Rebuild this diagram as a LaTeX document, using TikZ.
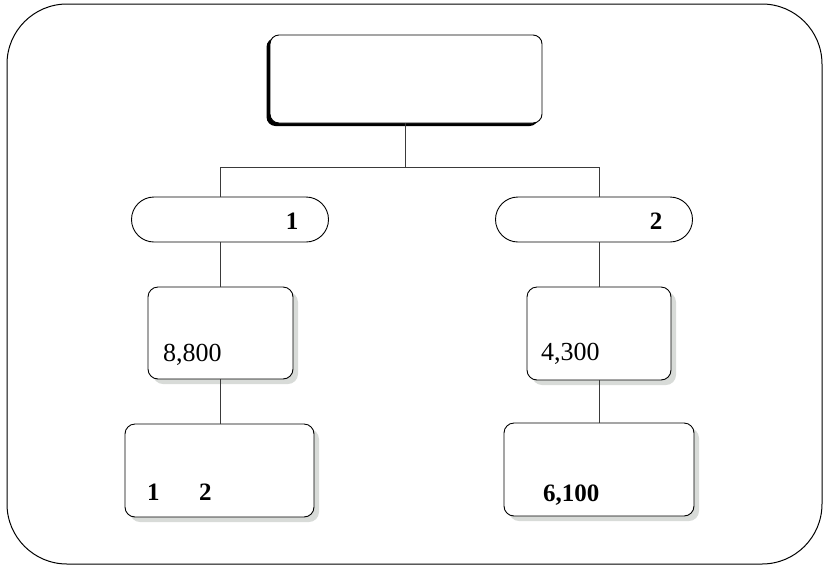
\documentclass[tikz,border=0pt]{standalone}
\usepackage{fontspec}
\setmainfont{Liberation Serif}
\usetikzlibrary{shadows}
\definecolor{shadowgrey}{HTML}{D8DBD8}
\definecolor{linegrey}{HTML}{3A3A3A}
\tikzset{
  frame/.style={draw=black, line width=1pt, rounded corners=60pt},
  topbox/.style={draw=black, fill=white, line width=0.9pt, rounded corners=9pt, minimum width=272pt, minimum height=88pt, inner sep=0pt,
    drop shadow={shadow xshift=-3.5pt, shadow yshift=-3pt, fill=black, opacity=1}},
  pill/.style={draw=black, fill=white, line width=0.9pt, rounded corners=22.5pt, minimum width=197pt, minimum height=45pt, inner sep=0pt},
  valbox/.style={draw=black, fill=white, line width=0.9pt, rounded corners=10pt, inner sep=0pt,
    drop shadow={shadow xshift=5pt, shadow yshift=-5pt, fill=shadowgrey, opacity=1}},
  conn/.style={draw=linegrey, line width=0.9pt},
  txt/.style={inner sep=0pt, anchor=base west, font=\fontsize{26}{28}\selectfont},
  btxt/.style={inner sep=0pt, anchor=base west, font=\fontsize{25}{28}\selectfont\bfseries},
}
\begin{document}
\begin{tikzpicture}[x=1pt, y=-1pt]
\useasboundingbox (0,0) rectangle (823,566);
\draw[frame] (7,4) rectangle (822,564);

\node[topbox] (top) at (406,79) {};
\node[pill] (p1) at (230,219.5) {};
\node[pill] (p2) at (594,219.5) {};
\node[valbox, minimum width=145pt, minimum height=92pt] (b1) at (220.5,333) {};
\node[valbox, minimum width=144pt, minimum height=93pt] (b2) at (599,333.5) {};
\node[valbox, minimum width=189pt, minimum height=93pt] (c1) at (219.5,470.5) {};
\node[valbox, minimum width=190pt, minimum height=93pt] (c2) at (599,469.5) {};

\node[btxt, anchor=base] (t1) at (292,229) {1};
\node[btxt, anchor=base] (t2) at (656,229) {2};
\node[txt] (v1) at (163,361) {8,800};
\node[txt] (v2) at (541,360) {4,300};
\node[btxt] (w1) at (147,500) {1};
\node[btxt] (w2) at (199,500) {2};
\node[btxt] (w3) at (543,501) {6,100};

\coordinate (bar) at (405,167);
\draw[conn] (top.south -| bar) -- (bar);
\draw[conn] (bar) -| (p1.north -| b1.north);
\draw[conn] (bar) -| (p2.north -| b2.north);
\draw[conn] (p1.south -| b1.north) -- (b1.north);
\draw[conn] (p2.south -| b2.north) -- (b2.north);
\draw[conn] (b1.south) -- (b1.south |- c1.north);
\draw[conn] (b2.south) -- (b2.south |- c2.north);
\end{tikzpicture}
\end{document}
